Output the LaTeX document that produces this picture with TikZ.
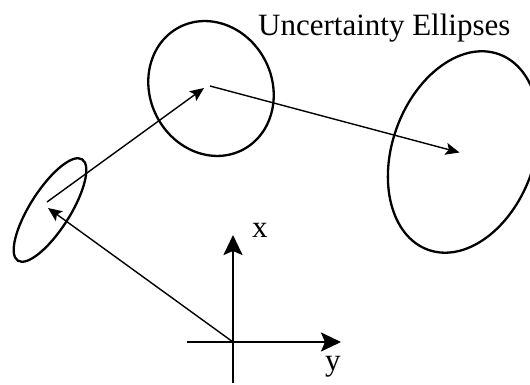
\documentclass[tikz,border=0pt]{standalone}
\usepackage{fontspec}
\setmainfont{Liberation Serif}
\usetikzlibrary{arrows.meta}
\tikzset{
  uellipse/.style={line width=2.3pt},
  track/.style={line width=1.4pt, -{Stealth[length=14pt,width=12pt,inset=3pt]}},
  axis/.style={line width=2.4pt, -{Stealth[length=20pt,width=19pt,inset=4pt]}},
  lbl/.style={font=\fontsize{31}{36}\selectfont, inner sep=0pt, anchor=base west},
}

\begin{document}
\begin{tikzpicture}[x=1pt,y=1pt]
\useasboundingbox (0,0) rectangle (530,385);

% frame
\coordinate (orig) at (233,43);
\coordinate (xbot) at (233,2);
\coordinate (xtop) at (233,150);
\coordinate (yleft) at (187,43);
\coordinate (yright) at (341,43);
\draw[line width=2.4pt] (xbot) -- (orig);
\draw[axis] (orig) -- (xtop);
\draw[axis] (yleft) -- (yright);
\node[lbl] (xl) at (252,147) {x};
\node[lbl] (yl) at (325,14) {y};

% estimates with their ellipses
\coordinate (c1) at (50,175);
\coordinate (c2) at (211,296.5);
\coordinate (c3) at (463.5,233);
\draw[uellipse, rotate around={57.6:(c1)}] (c1) ellipse [x radius=60pt, y radius=20pt];
\draw[uellipse, rotate around={-63:(c2)}] (c2) ellipse [x radius=69pt, y radius=61pt];
\draw[uellipse, rotate around={70:(c3)}] (c3) ellipse [x radius=104pt, y radius=71pt];

\coordinate (t1) at (48,177);
\coordinate (s1) at (47,183);
\coordinate (t2) at (204,297);
\coordinate (s2) at (210,299);
\coordinate (t3) at (459.5,232.5);
\draw[track] (orig) -- (t1);
\draw[track] (s1) -- (t2);
\draw[track] (s2) -- (t3);

\node[lbl] (title) at (258,349) {Uncertainty Ellipses};
\end{tikzpicture}
\end{document}
